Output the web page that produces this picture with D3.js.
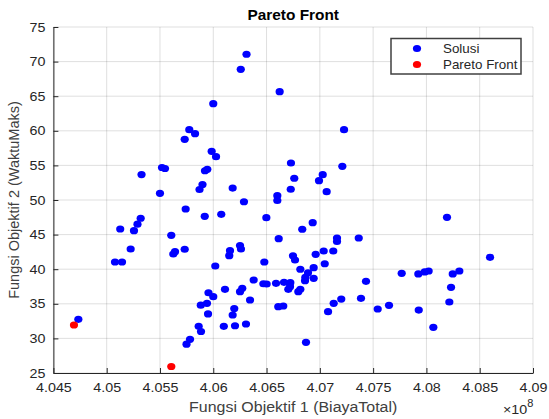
<!DOCTYPE html>
<html>
<head>
<meta charset="utf-8">
<script src="https://cdn.jsdelivr.net/npm/d3@7/dist/d3.min.js"></script>
<style>
  html, body { margin: 0; padding: 0; background: #fff; }
  svg { display: block; font-family: "Liberation Sans", Arial, sans-serif; }
</style>
</head>
<body>
<svg id="chart" width="549" height="419"></svg>
<script>
// Objective 1 values are in units of 1e8 (see the axis exponent label)
const solusiX = [
  4.04734, 4.06312, 4.06258, 4.06000, 4.05775, 4.05829, 4.05732, 4.05985, 4.06026, 4.05519,
  4.05547, 4.05327, 4.05922, 4.05944, 4.05871, 4.05899, 4.05500, 4.06182, 4.06288, 4.06623,
  4.07227, 4.06729, 4.07211, 4.06760, 4.07027, 4.06992, 4.06727, 4.07064, 4.06601, 4.06601,
  4.06498, 4.06835, 4.06933, 4.06614, 4.07161, 4.07161, 4.06748, 4.06767, 4.06961, 4.07036,
  4.07126, 4.06479, 4.07046, 4.06817, 4.06889, 4.06942, 4.06864, 4.06942, 4.06861, 4.06798,
  4.06817, 4.06379, 4.06470, 4.06501, 4.06589, 4.06664, 4.06723, 4.06704, 4.06720, 4.06345,
  4.06610, 4.06657, 4.07077, 4.07130, 4.07201, 4.06870, 4.05741, 4.05920, 4.06075, 4.05319,
  4.05289, 4.05256, 4.05127, 4.05606, 4.05225, 4.05078, 4.05144, 4.05641, 4.05625, 4.05732,
  4.06251, 4.06260, 4.06157, 4.06150, 4.06019, 4.06110, 4.06251, 4.06272, 4.05955, 4.06000,
  4.05883, 4.05941, 4.05951, 4.06197, 4.06182, 4.06099, 4.06204, 4.06307, 4.05863, 4.05885,
  4.05782, 4.05749, 4.08193, 4.07365, 4.08597, 4.07768, 4.07924, 4.07984, 4.08021, 4.08247,
  4.08309, 4.07433, 4.08231, 4.07386, 4.08215, 4.07543, 4.07649, 4.07928, 4.08065
];
const solusiY = [
  32.76, 71.06, 68.89, 63.92, 60.16, 59.58, 58.77, 57.04, 56.26, 54.70,
  54.55, 53.68, 54.23, 54.44, 51.52, 52.23, 50.97, 51.73, 49.75, 65.65,
  60.16, 55.35, 54.87, 53.14, 53.66, 52.79, 51.55, 51.20, 50.62, 49.93,
  47.44, 45.77, 46.72, 44.41, 44.51, 44.00, 41.94, 41.33, 42.15, 42.63,
  42.63, 41.04, 40.79, 39.99, 39.49, 40.22, 38.83, 38.68, 38.34, 36.75,
  37.09, 38.44, 37.90, 37.86, 37.96, 38.11, 38.05, 37.09, 37.47, 35.55,
  34.58, 34.68, 33.86, 35.07, 35.69, 29.44, 48.70, 47.64, 47.93, 47.36,
  46.50, 45.56, 45.81, 44.90, 42.92, 41.04, 41.04, 42.53, 42.20, 42.88,
  43.42, 42.92, 42.67, 41.95, 40.46, 37.09, 36.75, 37.24, 36.60, 36.03,
  34.80, 35.07, 33.53, 34.32, 33.38, 31.75, 31.83, 32.08, 31.75, 31.00,
  29.87, 29.16, 47.50, 44.51, 41.72, 39.41, 39.31, 39.60, 39.74, 39.31,
  39.74, 38.25, 37.38, 35.79, 35.26, 34.25, 34.78, 34.10, 31.60
];
const paretoX = [4.04693, 4.05606];
const paretoY = [31.94, 25.94];

const xTicks = [4.045, 4.05, 4.055, 4.06, 4.065, 4.07, 4.075, 4.08, 4.085, 4.09];
const xTickLabels = ["4.045", "4.05", "4.055", "4.06", "4.065", "4.07", "4.075", "4.08", "4.085", "4.09"];
const yTicks = [25, 30, 35, 40, 45, 50, 55, 60, 65, 70, 75];

const seriesNames = ["Solusi", "Pareto Front"];
const seriesColors = ["#0000ff", "#ff0000"];

const svg = d3.select("#chart");
const W = 549, H = 419;
const m = { left: 53.4, right: 16, top: 27, bottom: 46 };
const stretch = 1.1; // horizontal text widening

const x = d3.scaleLinear().domain([4.045, 4.09]).range([m.left, W - m.right]);
const y = d3.scaleLinear().domain([25, 75]).range([H - m.bottom, m.top]);

const axisColor = "#262626";

// grid
const grid = svg.append("g").attr("stroke", axisColor).attr("stroke-opacity", 0.15).attr("stroke-width", 1);
xTicks.forEach(t => grid.append("line")
  .attr("x1", x(t)).attr("x2", x(t)).attr("y1", y(25)).attr("y2", y(75)));
yTicks.forEach(t => grid.append("line")
  .attr("x1", x(4.045)).attr("x2", x(4.09)).attr("y1", y(t)).attr("y2", y(t)));

// axes (ticks point inward)
const xAxis = d3.axisBottom(x).tickValues(xTicks)
  .tickFormat((d, i) => xTickLabels[i]).tickSizeInner(-5).tickSizeOuter(0).tickPadding(10);
const yAxis = d3.axisLeft(y).tickValues(yTicks)
  .tickFormat(d3.format("d")).tickSizeInner(-5).tickSizeOuter(0).tickPadding(8);

const gx = svg.append("g").attr("transform", `translate(0,${y(25)})`).call(xAxis);
const gy = svg.append("g").attr("transform", `translate(${x(4.045)},0)`).call(yAxis);
[gx, gy].forEach(g => {
  g.select(".domain").attr("stroke", axisColor);
  g.selectAll(".tick line").attr("stroke", axisColor);
  g.selectAll(".tick text").attr("fill", axisColor).attr("font-size", 13)
    .attr("font-family", "Liberation Sans, Arial, sans-serif");
});
gx.selectAll(".tick text").attr("transform", `scale(${stretch},1)`);
gy.selectAll(".tick text").each(function () {
  const t = d3.select(this);
  const tx = +t.attr("x");
  t.attr("x", 0).attr("transform", `translate(${tx},0) scale(${stretch},1)`);
});

// points
const dotRx = 4.1, dotRy = 3.6;
svg.append("g").selectAll("ellipse")
  .data(d3.zip(solusiX, solusiY)).join("ellipse")
  .attr("cx", d => x(d[0])).attr("cy", d => y(d[1]))
  .attr("rx", dotRx).attr("ry", dotRy).attr("fill", seriesColors[0]);
svg.append("g").selectAll("ellipse")
  .data(d3.zip(paretoX, paretoY)).join("ellipse")
  .attr("cx", d => x(d[0])).attr("cy", d => y(d[1]))
  .attr("rx", dotRx).attr("ry", dotRy).attr("fill", seriesColors[1]);

// title and labels
const cxPlot = (x(4.045) + x(4.09)) / 2;
svg.append("text").attr("transform", `translate(${cxPlot},20) scale(${stretch},1)`)
  .attr("text-anchor", "middle").attr("font-size", 14).attr("font-weight", "bold")
  .attr("fill", "#000").text("Pareto Front");
svg.append("text").attr("transform", `translate(${cxPlot},412) scale(${stretch},1)`)
  .attr("text-anchor", "middle").attr("font-size", 14.5).attr("fill", "#404040")
  .text("Fungsi Objektif 1 (BiayaTotal)");
svg.append("text")
  .attr("transform", `translate(19,${(y(25) + y(75)) / 2}) rotate(-90)`)
  .attr("text-anchor", "middle").attr("font-size", 14.5).attr("fill", "#404040")
  .text("Fungsi Objektif 2 (WaktuMaks)");
const ex = svg.append("text").attr("transform", `translate(503,414) scale(${stretch},1)`)
  .attr("font-size", 13).attr("fill", axisColor);
ex.append("tspan").text("×10");
ex.append("tspan").attr("dy", -7).attr("font-size", 10).text("8");

// legend
const lg = svg.append("g").attr("transform", "translate(391,38.5)");
lg.append("rect").attr("width", 130).attr("height", 35.5)
  .attr("fill", "#fff").attr("stroke", "#404040").attr("stroke-width", 1.5);
seriesNames.forEach((name, i) => {
  const cy = 10 + i * 16;
  lg.append("ellipse").attr("cx", 26).attr("cy", cy).attr("rx", dotRx).attr("ry", dotRy)
    .attr("fill", seriesColors[i]);
  lg.append("text").attr("transform", `translate(52,${cy + 4.5}) scale(1.03,1)`)
    .attr("font-size", 13).attr("fill", axisColor).text(name);
});
</script>
</body>
</html>
